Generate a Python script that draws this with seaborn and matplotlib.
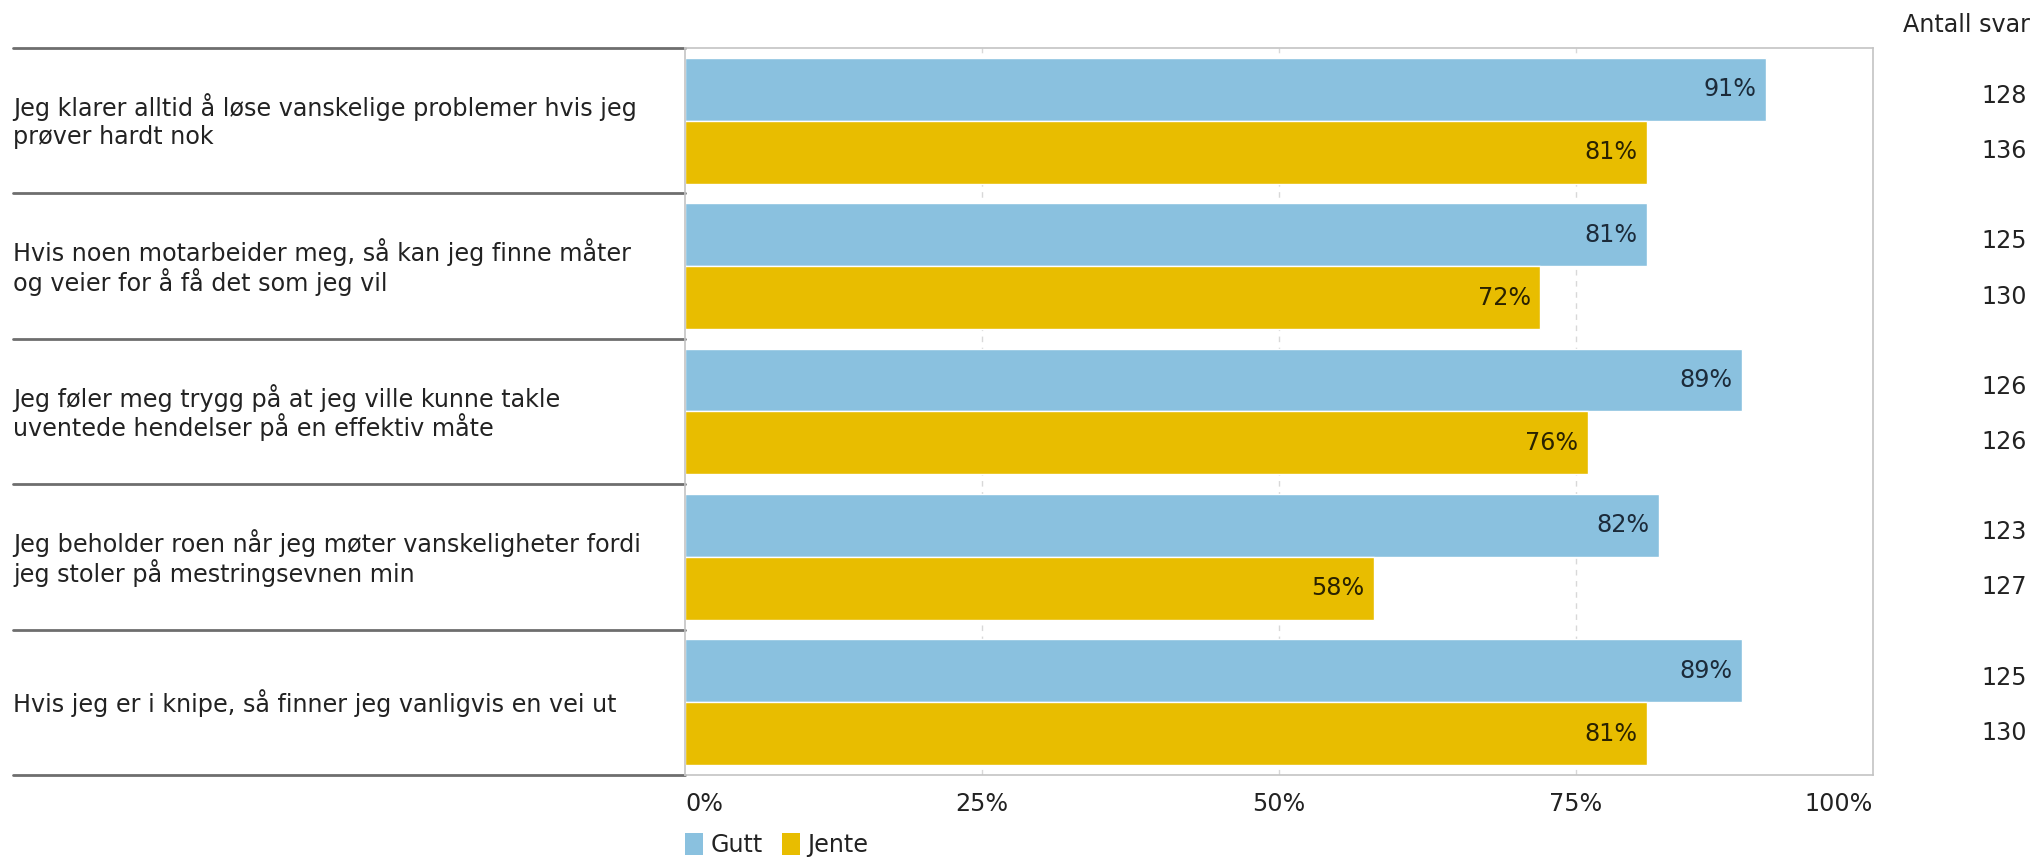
import pandas as pd
import seaborn as sns
import matplotlib.pyplot as plt
from matplotlib.lines import Line2D
from matplotlib.patches import Patch
from matplotlib.transforms import blended_transform_factory

# Survey data
questions = [
    'Jeg klarer alltid å løse vanskelige problemer hvis jeg\nprøver hardt nok',
    'Hvis noen motarbeider meg, så kan jeg finne måter\nog veier for å få det som jeg vil',
    'Jeg føler meg trygg på at jeg ville kunne takle\nuventede hendelser på en effektiv måte',
    'Jeg beholder roen når jeg møter vanskeligheter fordi\njeg stoler på mestringsevnen min',
    'Hvis jeg er i knipe, så finner jeg vanligvis en vei ut',
]
groups = ['Gutt', 'Jente']
gutt_pct = [91, 81, 89, 82, 89]
jente_pct = [81, 72, 76, 58, 81]
gutt_n = [128, 125, 126, 123, 125]
jente_n = [136, 130, 126, 127, 130]
x_ticks = [0, 25, 50, 75, 100]

colors = ['#8AC1DF', '#E8BD00']
FS = 17.2

df = pd.DataFrame({
    'Spørsmål': questions * 2,
    'Kjønn': ['Gutt'] * 5 + ['Jente'] * 5,
    'Andel': gutt_pct + jente_pct,
})

sns.set_style('white')
plt.rcParams['font.family'] = ['DejaVu Sans']

fig, ax = plt.subplots(figsize=(20.33, 8.57), dpi=100)
fig.subplots_adjust(left=685 / 2033, right=1873 / 2033, top=1 - 48 / 857, bottom=1 - 775 / 857)

sns.barplot(data=df, y='Spørsmål', x='Andel', hue='Kjønn', hue_order=groups,
            palette=colors, orient='h', width=0.866, saturation=1,
            legend=False, ax=ax)

ax.set_xlim(0, 100)
ax.set_ylim(len(questions) - 0.5, -0.5)
ax.set_xlabel('')
ax.set_ylabel('')
ax.set_yticks([])
ax.set_xticks(x_ticks)
ax.set_xticklabels([f'{t}%' for t in x_ticks], fontsize=FS, color='#222222')
tl = ax.get_xticklabels()
tl[0].set_ha('left')
tl[-1].set_ha('right')
ax.tick_params(axis='x', length=0, pad=12)

for s in ax.spines.values():
    s.set_color('#C4C4C4')
    s.set_linewidth(1.2)

for t in x_ticks[1:-1]:
    ax.axvline(t, color='#D8D8D8', linestyle=(0, (4, 4)), linewidth=1, zorder=0)

# value labels inside bar ends
text_cols = ['#1C2B3A', '#2A2200']
for cont, col in zip(ax.containers, text_cols):
    for bar in cont:
        w = bar.get_width()
        ax.text(w - 0.8, bar.get_y() + bar.get_height() / 2, f'{int(round(w))}%',
                ha='right', va='center', fontsize=FS, color=col)

# question labels (fixed line pitch) and separator lines on the left
tr = blended_transform_factory(fig.transFigure, ax.transData)
pitch = 21.5  # points between baselines
for i, q in enumerate(questions):
    lines = q.split('\n')
    n = len(lines)
    for k, line in enumerate(lines):
        off = ((n - 1) / 2 - k) * pitch
        ax.annotate(line, xy=(13 / 2033, i), xycoords=tr, xytext=(0, off + 1),
                    textcoords='offset points', ha='left', va='center_baseline',
                    fontsize=FS, color='#222222', annotation_clip=False)
for i in range(len(questions) + 1):
    ax.add_line(Line2D([13 / 2033, 685 / 2033], [i - 0.5, i - 0.5], transform=tr,
                       color='#6E6E6E', linewidth=2, clip_on=False))

# answer counts column
fig.text(2030 / 2033, 1 - 25 / 857, 'Antall svar', ha='right', va='center',
         fontsize=FS, color='#222222')
for i in range(len(questions)):
    ax.text(2027 / 2033, i - 0.17, str(gutt_n[i]), transform=tr, ha='right',
            va='center', fontsize=FS, color='#222222', clip_on=False)
    ax.text(2027 / 2033, i + 0.21, str(jente_n[i]), transform=tr, ha='right',
            va='center', fontsize=FS, color='#222222', clip_on=False)

handles = [Patch(facecolor=c, edgecolor='none') for c in colors]
fig.legend(handles, groups, loc='center left', bbox_to_anchor=(664 / 2033, 1 - 845 / 857),
           ncol=2, frameon=False, fontsize=FS, handlelength=0.75, handleheight=1.0,
           handletextpad=0.3, columnspacing=0.8, labelcolor='#222222')

fig.savefig('out.png', dpi=100)
